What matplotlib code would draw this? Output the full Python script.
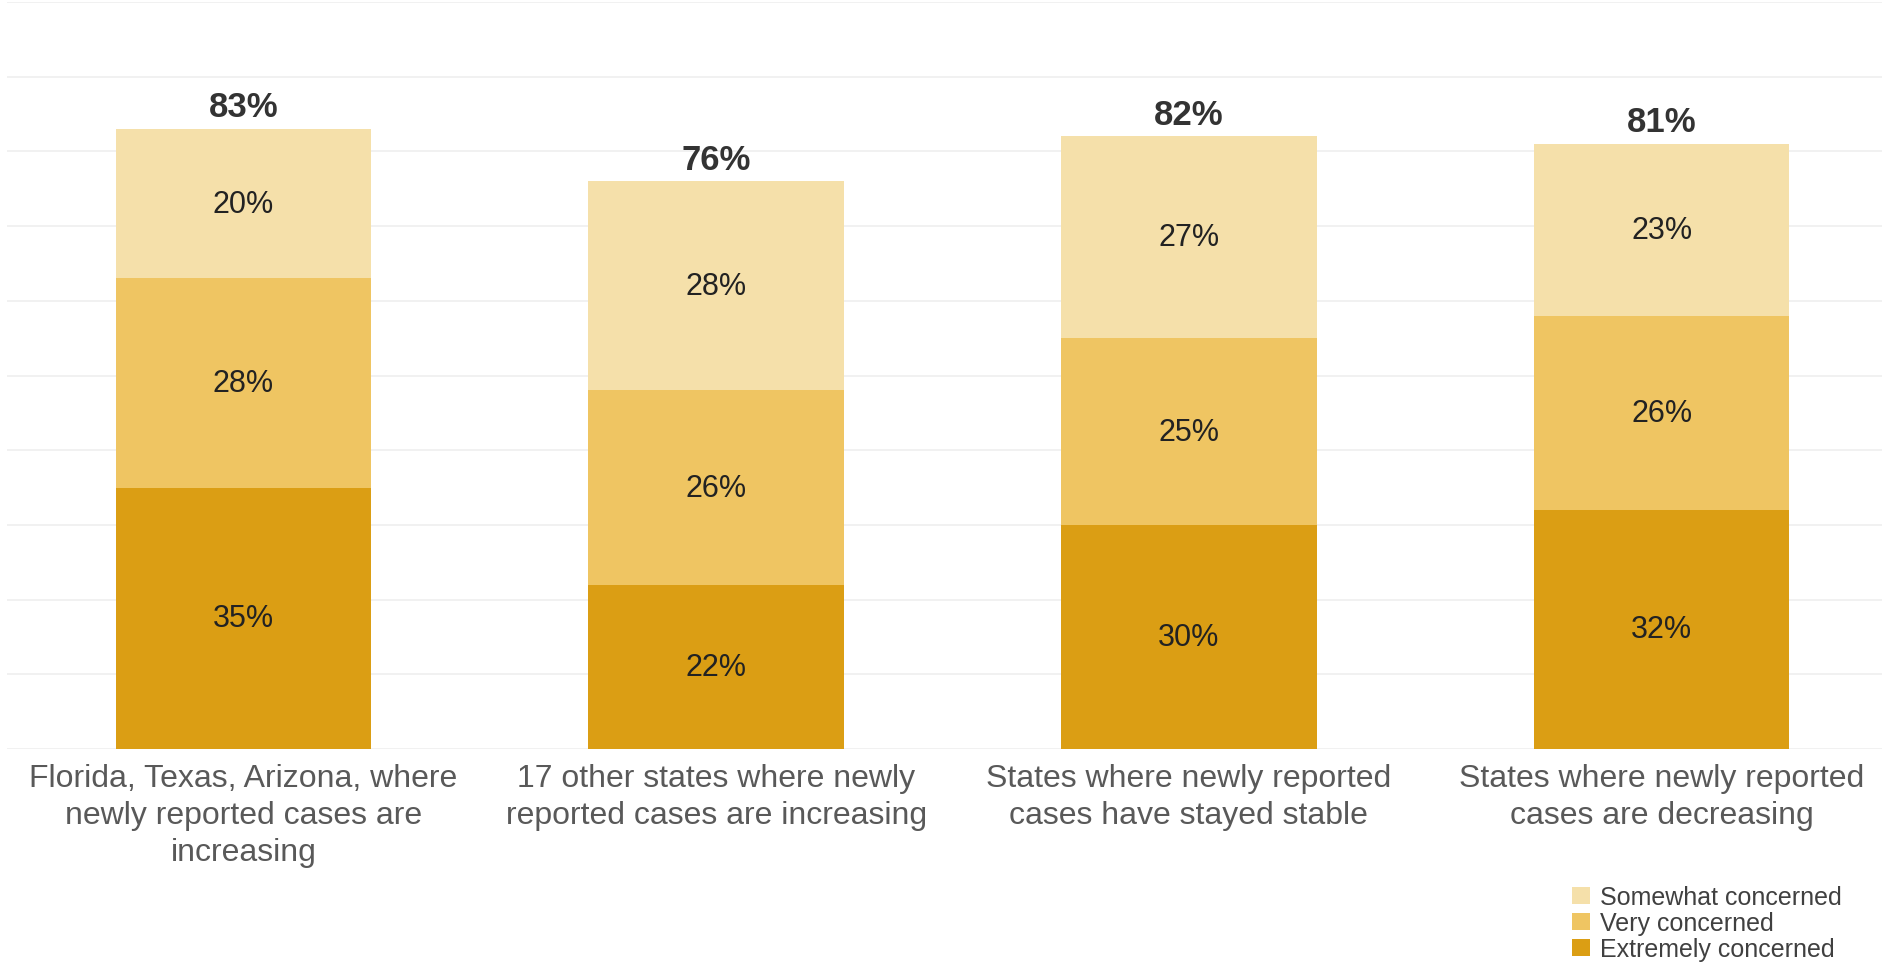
import matplotlib
matplotlib.use("Agg")
import matplotlib.pyplot as plt
from matplotlib.patches import Patch
import numpy as np

plt.rcParams['font.family'] = ['Liberation Sans', 'DejaVu Sans']

categories = [
    "Florida, Texas, Arizona, where\nnewly reported cases are\nincreasing",
    "17 other states where newly\nreported cases are increasing",
    "States where newly reported\ncases have stayed stable",
    "States where newly reported\ncases are decreasing",
]
extremely = [35, 22, 30, 32]
very = [28, 26, 25, 26]
somewhat = [20, 28, 27, 23]
totals = [83, 76, 82, 81]
series_names = ["Somewhat concerned", "Very concerned", "Extremely concerned"]

c_some = "#F5E0AA"
c_very = "#EFC562"
c_ext = "#DB9E14"

W, H = 1883, 970
fig = plt.figure(figsize=(W / 100, H / 100), dpi=100)
x0, x1 = 7, 1898
ytop, ybot = 3, 750
ax = fig.add_axes([x0 / W, 1 - ybot / H, (x1 - x0) / W, (ybot - ytop) / H])

x = np.arange(len(categories))
bw = 0.54
ax.bar(x, extremely, bw, color=c_ext, zorder=2)
ax.bar(x, very, bw, bottom=extremely, color=c_very, zorder=2)
bottom3 = np.array(extremely) + np.array(very)
ax.bar(x, somewhat, bw, bottom=bottom3, color=c_some, zorder=2)

for i in range(len(x)):
    ax.text(x[i], extremely[i] / 2, f"{extremely[i]}%", ha="center", va="center",
            fontsize=22, color="#222222", zorder=3)
    ax.text(x[i], extremely[i] + very[i] / 2, f"{very[i]}%", ha="center", va="center",
            fontsize=22, color="#222222", zorder=3)
    ax.text(x[i], bottom3[i] + somewhat[i] / 2, f"{somewhat[i]}%", ha="center", va="center",
            fontsize=22, color="#222222", zorder=3)
    ax.annotate(f"{totals[i]}%", (x[i], bottom3[i] + somewhat[i]), xytext=(0, 16),
                textcoords="offset points", ha="center", va="center",
                fontsize=25, fontweight="bold", color="#333333", zorder=3)

ax.set_xlim(-0.5, 3.5)
ax.set_ylim(0, 100)
ax.set_yticks(np.arange(0, 101, 10))
ax.yaxis.grid(True, color="#EFEFEF", linewidth=1.2, zorder=0)
ax.set_yticklabels([])
ax.tick_params(axis="y", length=0)
ax.set_xticks(x)
ax.set_xticklabels(categories, fontsize=23, color="#595959", linespacing=1.3)
ax.tick_params(axis="x", length=0, pad=10)
for s in ax.spines.values():
    s.set_visible(False)

handles = [Patch(facecolor=c_some), Patch(facecolor=c_very), Patch(facecolor=c_ext)]
fig.legend(handles, series_names, loc="upper left", bbox_to_anchor=(1572 / W, 1 - 886 / H),
           frameon=False, fontsize=18, handlelength=0.72, handleheight=0.7,
           handletextpad=0.4, labelspacing=0.08, borderpad=0, borderaxespad=0,
           labelcolor="#404040")

fig.savefig("out.png", dpi=100)
